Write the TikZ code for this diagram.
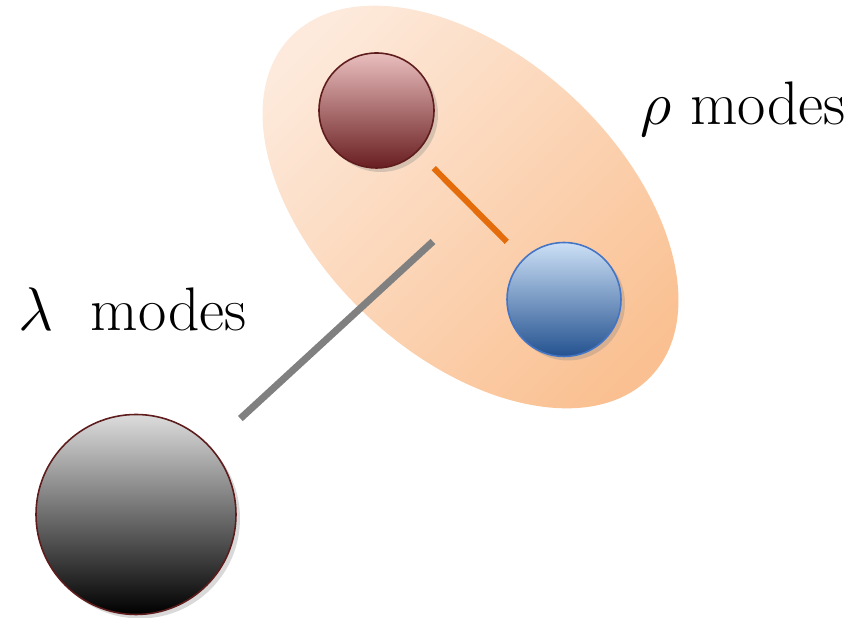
\documentclass[tikz,border=0pt]{standalone}
\usetikzlibrary{shapes.geometric,shadows}

\definecolor{cloudlight}{RGB}{253,234,220}
\definecolor{clouddark}{RGB}{250,192,145}
\definecolor{rholine}{RGB}{228,108,10}
\definecolor{lamline}{RGB}{128,128,128}
\definecolor{maroon}{RGB}{95,28,28}
\definecolor{redtop}{RGB}{234,190,190}
\definecolor{redmid}{RGB}{202,148,148}
\definecolor{redbot}{RGB}{105,30,32}
\definecolor{blueedge}{RGB}{68,116,196}
\definecolor{bluetop}{RGB}{204,224,246}
\definecolor{bluemid}{RGB}{162,188,222}
\definecolor{bluebot}{RGB}{36,82,144}
\definecolor{greytop}{RGB}{220,220,220}
\definecolor{greymid}{RGB}{165,165,165}

\begin{document}
\begin{tikzpicture}[
		cloud/.style={
			ellipse,
			inner sep=0pt,
			minimum width=9.9cm,
			minimum height=6cm,
			top color=cloudlight,
			bottom color=clouddark,
			shading angle=45
		},
		ball/.style={
			circle,
			draw,
			line width=0.9pt,
			inner sep=0pt,
			drop shadow={shadow xshift=0.08cm, shadow yshift=-0.08cm, opacity=0.3}
		},
		redball/.style={ball, minimum size=2.3cm, draw=maroon, top color=redtop, middle color=redmid, bottom color=redbot},
		blueball/.style={ball, minimum size=2.28cm, draw=blueedge, top color=bluetop, middle color=bluemid, bottom color=bluebot},
		greyball/.style={ball, minimum size=4cm, draw=maroon, top color=greytop, middle color=greymid, bottom color=black},
		link/.style={draw, line width=3.4pt},
		modetext/.style={anchor=base west, inner sep=0pt, font=\Huge, scale=1.407}
		]
		
		\useasboundingbox (0,0) rectangle (17.28,12.36);
		
		% rho pair cloud
		\coordinate (rhomid) at (9.41,8.22);
		\node[cloud, rotate=-43] (rhocloud) at (rhomid) {};
		
		% quarks
		\node[redball] (rq) at (7.53,10.15) {};
		\node[blueball] (bq) at (11.28,6.37) {};
		\node[greyball] (lq) at (2.72,2.07) {};
		
		% links
		\draw[link, draw=rholine, shorten <=0.46cm, shorten >=0.47cm] (rq) -- (bq);
		\draw[link, draw=lamline, line width=4pt, shorten <=0.82cm, shorten >=1.02cm] (lq) -- (rhomid);
		
		% labels
		\node[modetext] (rholabel) at (12.8,9.86) {$\rho$ modes};
		\node[modetext] (lamlabel) at (0.36,5.74) {$\lambda$\ \ modes};
		
	\end{tikzpicture}
\end{document}
